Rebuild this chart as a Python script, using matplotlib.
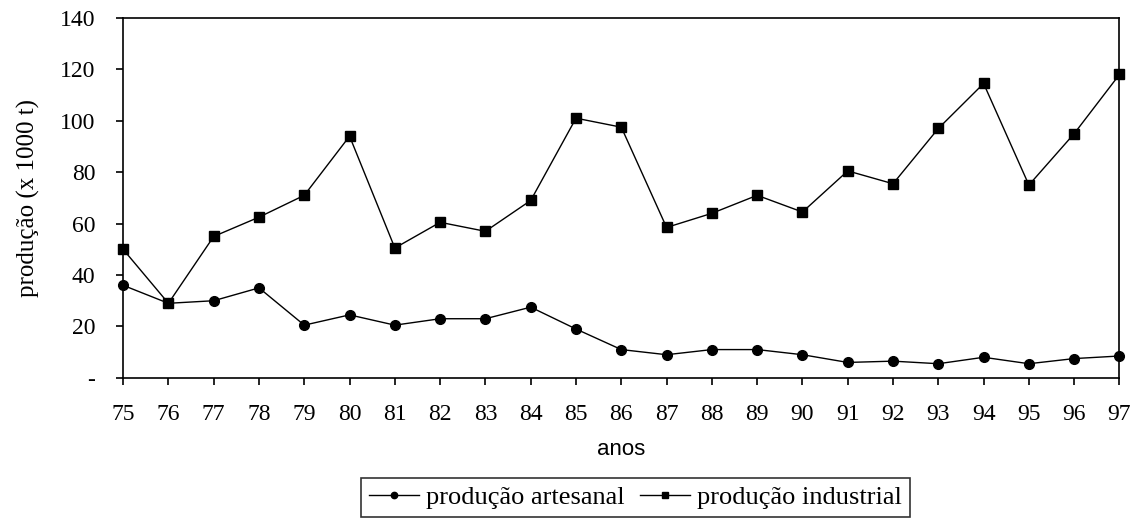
import matplotlib
matplotlib.use('Agg')
import matplotlib.pyplot as plt

anos = ['75', '76', '77', '78', '79', '80', '81', '82', '83', '84', '85', '86',
        '87', '88', '89', '90', '91', '92', '93', '94', '95', '96', '97']
artesanal = [36, 29, 30, 35, 20.5, 24.5, 20.5, 23, 23, 27.5, 19, 11,
             9, 11, 11, 9, 6, 6.5, 5.5, 8, 5.5, 7.5, 8.5]
industrial = [50, 29, 55, 62.5, 71, 94, 50.5, 60.5, 57, 69, 101, 97.5,
              58.5, 64, 71, 64.5, 80.5, 75.5, 97, 114.5, 75, 95, 118]
y_ticks = [0, 20, 40, 60, 80, 100, 120, 140]
y_labels = ['-', '20', '40', '60', '80', '100', '120', '140']

serif = 'Liberation Serif'
sans = 'Liberation Sans'

fig = plt.figure(figsize=(11.4, 5.27), dpi=100)
ax = fig.add_axes([0.108, 0.283, 0.874, 0.683])

x = list(range(len(anos)))
ax.plot(x, artesanal, color='black', lw=1, marker='o', markersize=7,
        label='produção artesanal', clip_on=False, zorder=3)
ax.plot(x, industrial, color='black', lw=1, marker='s', markersize=7,
        label='produção industrial', clip_on=False, zorder=3)

ax.set_xlim(0, len(anos) - 1)
ax.set_ylim(0, 140)
ax.set_xticks(x)
ax.set_xticklabels(anos, fontfamily=serif, fontsize=17)
ax.set_yticks(y_ticks)
ax.set_yticklabels(y_labels, fontfamily=serif, fontsize=17)
ax.tick_params(direction='out', length=5, width=1.2, color='black')
ax.tick_params(axis='x', pad=14)
ax.tick_params(axis='y', pad=15)
for s in ax.spines.values():
    s.set_linewidth(1.2)

ax.set_xlabel('anos', fontfamily=sans, fontsize=16, labelpad=10)
ax.set_ylabel('produção (x 1000 t)', fontfamily=serif, fontsize=18, labelpad=14)

leg = fig.legend(loc='center', bbox_to_anchor=(0.5575, 0.056), ncol=2,
                 prop={'family': serif, 'size': 19}, frameon=True, fancybox=False,
                 edgecolor='black', handlelength=1.9, handletextpad=0.25,
                 columnspacing=0.6, borderpad=0.3, borderaxespad=0,
                 markerscale=0.65)
leg.get_frame().set_linewidth(1.2)

fig.savefig('out.png', dpi=100)
